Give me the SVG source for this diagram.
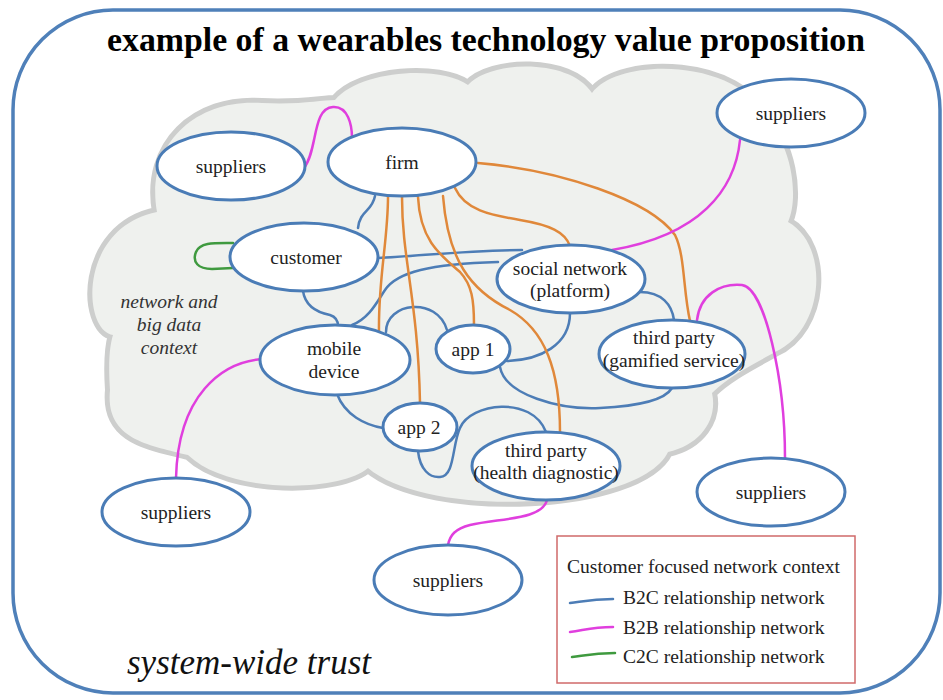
<svg xmlns="http://www.w3.org/2000/svg" width="943" height="700" viewBox="0 0 943 700">
  <defs>
    <style>
      text { font-family: "Liberation Serif", "Times New Roman", "DejaVu Serif", serif; }
      .frame { fill: #ffffff; stroke: #4f80b9; stroke-width: 3.5; }
      .cloud-shadow { fill: none; stroke: #cdcecd; stroke-width: 10; stroke-linejoin: round; }
      .cloud { fill: #eff1ee; stroke: none; }
      .node ellipse { fill: #ffffff; stroke: #4a7cb6; stroke-width: 3; }
      .label { font-size: 19.5px; fill: #222222; text-anchor: middle; }
      .b2c { fill: none; stroke: #4d7db6; stroke-width: 2.5; stroke-linecap: round; }
      .b2b { fill: none; stroke: #e03fde; stroke-width: 2.5; stroke-linecap: round; }
      .c2c { fill: none; stroke: #3f9a3f; stroke-width: 2.5; stroke-linecap: round; }
      .firm-link { fill: none; stroke: #e0883a; stroke-width: 2.5; stroke-linecap: round; }
      .legend-text { font-size: 19.5px; fill: #222222; }
    </style>
    <path id="cloudShape" d="M 113,335
      C 82,330 78,228 157,212
      C 145,145 195,98 262,103
      C 300,105 322,100 335,100
      C 360,70 440,65 468,85
      C 490,60 570,58 592,93
      C 620,55 745,60 765,120
      C 790,140 800,195 788,222
      C 830,245 825,330 775,352
      C 758,362 730,375 712,393
      C 718,420 700,445 668,452
      C 640,510 430,520 368,468
      C 340,492 230,495 188,455
      C 150,445 105,440 110,390
      C 108,360 110,345 113,335 Z"/>
  </defs>

  <!-- outer trust boundary -->
  <rect class="frame" x="13" y="10" width="927" height="683" rx="100" ry="100"/>

  <!-- title -->
  <text x="486" y="51" font-size="34" font-weight="bold" fill="#000000" text-anchor="middle" textLength="758" lengthAdjust="spacingAndGlyphs">example of a wearables technology value proposition</text>

  <!-- network and big data cloud -->
  <use href="#cloudShape" class="cloud-shadow"/>
  <use href="#cloudShape" class="cloud"/>

  <g id="cloud-caption" font-size="19.5" font-style="italic" fill="#333333" text-anchor="middle">
    <text x="169" y="308">network and</text>
    <text x="169" y="331">big data</text>
    <text x="169" y="354">context</text>
  </g>

  <!-- relationship connectors -->
  <g id="connectors">
    <!-- B2C -->
    <path class="b2c" d="M 375,196 C 372,212 360,210 358,228"/>
    <path class="b2c" d="M 378,258 C 420,256 470,250 522,250"/>
    <path class="b2c" d="M 352,325 C 370,318 378,300 385,290 C 397,272 430,264 498,262"/>
    <path class="b2c" d="M 303,291 C 305,305 315,312 330,315 C 336,317 338,322 338,326"/>
    <path class="b2c" d="M 386,332 C 386,302 437,296 447,330"/>
    <path class="b2c" d="M 507,361 C 540,360 570,345 570,313"/>
    <path class="b2c" d="M 640,292 C 662,292 672,305 674,320"/>
    <path class="b2c" d="M 500,367 C 505,395 560,410 600,408 C 640,406 665,400 672,388"/>
    <path class="b2c" d="M 337,394 C 345,415 365,425 383,428"/>
    <path class="b2c" d="M 418,451 C 420,470 430,478 440,477 C 455,476 452,445 460,428 C 470,403 532,395 546,432"/>

    <!-- firm to partners -->
    <path class="firm-link" d="M 478,163 C 560,170 650,200 675,235 C 685,255 683,290 690,321"/>
    <path class="firm-link" d="M 455,188 C 465,210 490,215 520,220 C 550,225 565,232 570,246"/>
    <path class="firm-link" d="M 443,196 C 448,260 470,290 510,310 C 545,330 560,370 560,432"/>
    <path class="firm-link" d="M 418,197 C 420,240 440,255 460,272 C 472,285 474,300 474,325"/>
    <path class="firm-link" d="M 402,197 C 402,260 418,300 420,403"/>
    <path class="firm-link" d="M 388,197 C 388,240 378,280 379,332"/>

    <!-- B2B -->
    <path class="b2b" d="M 304,168 C 318,150 312,108 333,107 C 348,106 352,125 352,138"/>
    <path class="b2b" d="M 740,140 C 735,190 700,235 612,250"/>
    <path class="b2b" d="M 697,320 C 700,295 720,283 742,285 C 765,288 785,380 785,458"/>
    <path class="b2b" d="M 262,359 C 222,362 178,395 176,478"/>
    <path class="b2b" d="M 547,500 C 542,520 500,518 470,525 C 455,529 450,535 448,545"/>

    <!-- C2C -->
    <path class="c2c" d="M 233,243 C 215,243 200,242 196,252 C 192,262 198,269 212,269 L 233,268"/>
  </g>

  <!-- nodes -->
  <g id="suppliers-firm" class="node">
    <ellipse cx="231" cy="166" rx="74" ry="34"/>
    <text class="label" x="231" y="173">suppliers</text>
  </g>
  <g id="firm" class="node">
    <ellipse cx="402" cy="162" rx="74" ry="34"/>
    <text class="label" x="402" y="169">firm</text>
  </g>
  <g id="customer" class="node">
    <ellipse cx="304" cy="257" rx="74" ry="34"/>
    <text class="label" x="306" y="264">customer</text>
  </g>
  <g id="social-network" class="node">
    <ellipse cx="571" cy="279" rx="74" ry="34"/>
    <text class="label" x="570" y="275">social network</text>
    <text class="label" x="570" y="297">(platform)</text>
  </g>
  <g id="third-party-gamified" class="node">
    <ellipse cx="672" cy="354" rx="73" ry="34"/>
    <text class="label" x="674" y="344">third party</text>
    <text class="label" x="674" y="367">(gamified service)</text>
  </g>
  <g id="mobile-device" class="node">
    <ellipse cx="335" cy="360" rx="75" ry="35"/>
    <text class="label" x="334" y="355">mobile</text>
    <text class="label" x="334" y="378">device</text>
  </g>
  <g id="app-1" class="node">
    <ellipse cx="473" cy="349" rx="37" ry="24"/>
    <text class="label" x="473" y="356">app 1</text>
  </g>
  <g id="app-2" class="node">
    <ellipse cx="420" cy="427" rx="37" ry="24"/>
    <text class="label" x="419" y="434">app 2</text>
  </g>
  <g id="third-party-health" class="node">
    <ellipse cx="546" cy="466" rx="74" ry="34"/>
    <text class="label" x="546" y="457">third party</text>
    <text class="label" x="546" y="479">(health diagnostic)</text>
  </g>
  <g id="suppliers-social" class="node">
    <ellipse cx="791" cy="113" rx="74" ry="34"/>
    <text class="label" x="791" y="120">suppliers</text>
  </g>
  <g id="suppliers-gamified" class="node">
    <ellipse cx="771" cy="492" rx="74" ry="34"/>
    <text class="label" x="771" y="499">suppliers</text>
  </g>
  <g id="suppliers-mobile" class="node">
    <ellipse cx="176" cy="512" rx="74" ry="34"/>
    <text class="label" x="176" y="519">suppliers</text>
  </g>
  <g id="suppliers-health" class="node">
    <ellipse cx="448" cy="580" rx="74" ry="35"/>
    <text class="label" x="448" y="587">suppliers</text>
  </g>

  <!-- legend -->
  <g id="legend">
    <rect x="557" y="536" width="298" height="147" fill="#ffffff" stroke="#d06a6a" stroke-width="1.5"/>
    <text class="legend-text" x="567" y="573" textLength="273" lengthAdjust="spacingAndGlyphs">Customer focused network context</text>
    <path class="b2c" d="M 570,603 C 585,601 592,599 613,599"/>
    <text class="legend-text" x="623" y="604">B2C relationship network</text>
    <path class="b2b" d="M 570,632 C 585,630 592,627 613,627"/>
    <text class="legend-text" x="623" y="634">B2B relationship network</text>
    <path class="c2c" d="M 572,657 C 587,655 594,653 615,653"/>
    <text class="legend-text" x="623" y="663">C2C relationship network</text>
  </g>

  <!-- system-wide trust caption -->
  <text x="127" y="674" font-size="35" font-style="italic" fill="#111111">system-wide trust</text>
</svg>
